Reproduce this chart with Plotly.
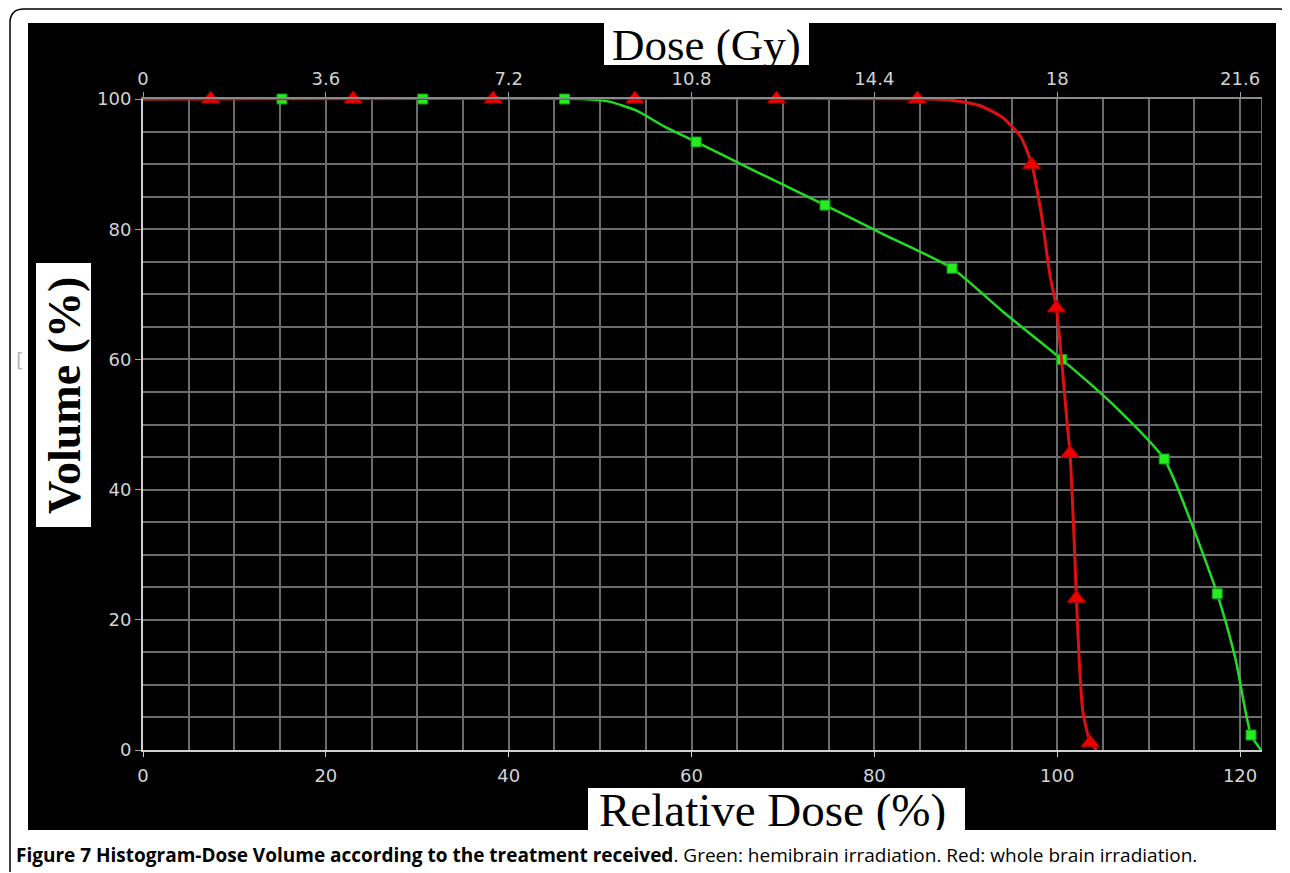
import plotly.graph_objects as go

# whole brain irradiation (red) - curve
red_x = [0, 86, 89, 91.5, 94, 96, 97.2, 98.3, 99.2, 99.9, 100.6, 101.1, 101.4, 101.8, 102.1, 102.4, 102.8, 103.6, 104.3]
red_y = [100, 100, 99.7, 99, 97.2, 94.2, 90, 82, 73, 68, 58, 50, 45.6, 34, 23.3, 14, 6, 1.2, 0]
red_mx = [7.4, 23.0, 38.3, 53.8, 69.3, 84.7, 97.2, 99.9, 101.4, 102.1, 103.6]
red_my = [100, 100, 100, 100, 100, 100, 89.9, 67.9, 45.6, 23.3, 1.1]

# hemibrain irradiation (green)
green_x = [0, 48, 51, 54, 57, 60.5, 67, 74.6, 81, 88.5, 94, 100.5, 106, 111.7, 114.5, 117.5, 119.5, 121.2, 122.3]
green_y = [100, 100, 99.6, 98.2, 95.8, 93.4, 88.9, 83.7, 79.2, 74.0, 67.4, 60.0, 53.2, 44.7, 35.5, 24.0, 14, 2.3, 0]
green_mx = [15.2, 30.6, 46.1, 60.5, 74.6, 88.5, 100.5, 111.7, 117.5, 121.2]
green_my = [100, 100, 100, 93.4, 83.7, 74.0, 60.0, 44.7, 24.0, 2.3]

x_ticks = [0, 20, 40, 60, 80, 100, 120]
y_ticks = [0, 20, 40, 60, 80, 100]
gy_ticks = [0, 3.6, 7.2, 10.8, 14.4, 18, 21.6]
gy_labels = ["0", "3.6", "7.2", "10.8", "14.4", "18", "21.6"]
x_max = 122.4
gy_per_pct = 0.18

# page size and plot box in page pixels; the html body adds an 8px margin
W, H, OFF = 1290, 873, 8
L, R, T, B = 143, 1262, 99, 750


def px(x):
    return (x - L) / (R - L)


def py(y):
    return (B - y) / (B - T)


tick_font = dict(family="DejaVu Sans", size=18, color="#d2d2d2")
grid = "#6c6c6c"

fig = go.Figure()
fig.add_trace(go.Scatter(x=green_x, y=green_y, mode="lines", cliponaxis=False,
                         line=dict(color="#22dd22", width=2.5, shape="spline", smoothing=0.6),
                         hoverinfo="skip", showlegend=False))
fig.add_trace(go.Scatter(x=green_mx, y=green_my, mode="markers", name="Hemibrain", cliponaxis=False,
                         marker=dict(symbol="square", size=10, color="#22ee22", line=dict(color="#119911", width=1)),
                         showlegend=False))
fig.add_trace(go.Scatter(x=red_x, y=red_y, mode="lines", cliponaxis=False,
                         line=dict(color="#dd1111", width=3, shape="spline", smoothing=0.6),
                         hoverinfo="skip", showlegend=False))
fig.add_trace(go.Scatter(x=red_mx, y=red_my, mode="markers", name="Whole brain", cliponaxis=False,
                         marker=dict(symbol="triangle-up", size=16, color="#ee0000", line=dict(color="#aa0000", width=1)),
                         showlegend=False))
# helper trace so the Gy axis is drawn
fig.add_trace(go.Scatter(x=[0, x_max * gy_per_pct], y=[100, 100], xaxis="x2", mode="markers",
                         marker=dict(opacity=0), hoverinfo="skip", showlegend=False))

shapes = [
    # black panel
    dict(type="rect", xref="paper", yref="paper", x0=px(28), x1=px(1276), y0=py(830), y1=py(23),
         fillcolor="black", line=dict(width=0), layer="below"),
    # right edge of the grid box
    dict(type="line", xref="x", yref="y", x0=x_max, x1=x_max, y0=0, y1=100, line=dict(color="#8a8a8a", width=1.5)),
    # title boxes
    dict(type="rect", xref="paper", yref="paper", x0=px(604), x1=px(809), y0=py(65), y1=py(23),
         fillcolor="white", line=dict(width=0)),
    dict(type="rect", xref="paper", yref="paper", x0=px(36), x1=px(91), y0=py(527), y1=py(263),
         fillcolor="white", line=dict(width=0)),
    dict(type="rect", xref="paper", yref="paper", x0=px(588), x1=px(965), y0=py(830), y1=py(788),
         fillcolor="white", line=dict(width=0)),
    # page frame
    dict(type="path", xref="paper", yref="paper",
         path=f"M {px(1288)},{py(15)} Q {px(1286)},{py(9)} {px(1280)},{py(9)} L {px(24)},{py(9)} "
              f"Q {px(10)},{py(9)} {px(10)},{py(23)} L {px(10)},{py(872)}",
         line=dict(color="black", width=1.5)),
]

serif = "Liberation Serif"
annotations = [
    dict(text="Dose (Gy)", xref="paper", yref="paper", x=px(706), y=py(45), xanchor="center", yanchor="middle",
         height=42, showarrow=False, font=dict(family=serif, size=45, color="black")),
    dict(text="<b>Volume (%)</b>", xref="paper", yref="paper", x=px(64), y=py(396), xanchor="center",
         yanchor="middle", showarrow=False, textangle=-90, font=dict(family=serif, size=46, color="black")),
    dict(text="Relative Dose (%)", xref="paper", yref="paper", x=px(772), y=py(810), xanchor="center",
         yanchor="middle", height=40, showarrow=False, font=dict(family=serif, size=47, color="black")),
    dict(text="[", xref="paper", yref="paper", x=px(20), y=py(360), xanchor="center", yanchor="middle",
         showarrow=False, font=dict(family="DejaVu Sans", size=20, color="#b8b8b8")),
    dict(text="<b>Figure 7 Histogram-Dose Volume according to the treatment received</b>. "
              "Green: hemibrain irradiation. Red: whole brain irradiation.",
         xref="paper", yref="paper", x=px(14), y=py(855), xanchor="left", yanchor="middle", showarrow=False,
         font=dict(family="Open Sans", size=19, color="black")),
]

fig.update_layout(
    width=W - OFF, height=H - OFF,
    margin=dict(l=L - OFF, r=W - R, t=T - OFF, b=H - B),
    paper_bgcolor="white", plot_bgcolor="black",
    shapes=shapes, annotations=annotations,
    xaxis=dict(range=[0, x_max], tickvals=x_ticks, showgrid=True, gridcolor=grid, gridwidth=1.5, zeroline=False,
               showline=True, linecolor="#cfcfcf", linewidth=2, ticks="outside", ticklen=5, tickcolor="#cfcfcf",
               tickfont=tick_font, ticklabelstandoff=3,
               minor=dict(dtick=5, tick0=0, showgrid=True, gridcolor=grid, gridwidth=1.5, ticks="")),
    xaxis2=dict(range=[0, x_max * gy_per_pct], overlaying="x", side="top", tickvals=gy_ticks, ticktext=gy_labels,
                showgrid=False, zeroline=False, showline=True, linecolor="#8a8a8a", linewidth=1.5,
                ticks="outside", ticklen=5, tickcolor="#a0a0a0", tickfont=tick_font),
    yaxis=dict(range=[0, 100], tickvals=y_ticks, showgrid=True, gridcolor=grid, gridwidth=1.5, zeroline=False,
               showline=True, linecolor="#cfcfcf", linewidth=2, ticks="outside", ticklen=6, tickcolor="#a0a0a0",
               tickfont=tick_font,
               minor=dict(dtick=5, tick0=0, showgrid=True, gridcolor=grid, gridwidth=1.5, ticks="")),
)

fig.write_html("out.html")
